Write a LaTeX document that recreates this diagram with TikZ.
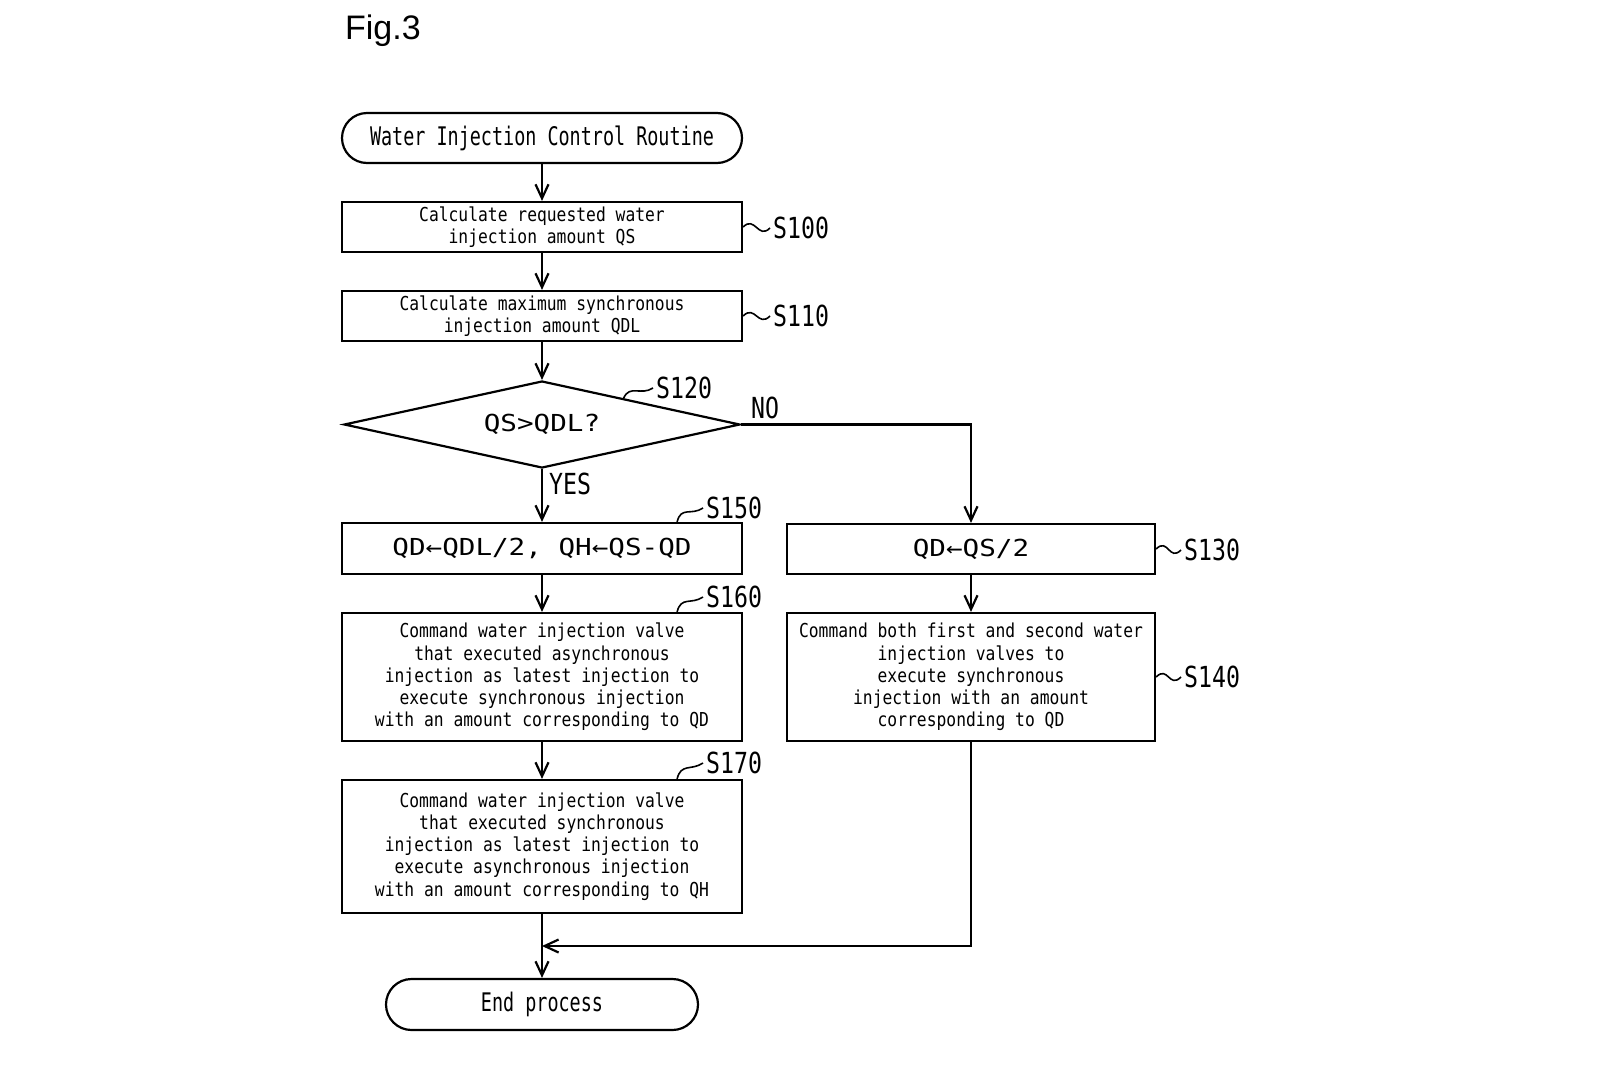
\documentclass[tikz,border=0pt]{standalone}
\usepackage{fontspec}
\setmainfont{Liberation Sans}
\newfontfamily\pfs[FakeStretch=0.85]{DejaVu Sans Mono}
\newfontfamily\pft[FakeStretch=0.72]{DejaVu Sans Mono}
\newfontfamily\pfb[FakeStretch=1.18]{DejaVu Sans Mono}
\newfontfamily\pfl[FakeStretch=0.8]{DejaVu Sans Mono}
\usetikzlibrary{shapes.geometric,arrows.meta,calc}
\tikzset{
  box/.style={draw, rectangle, inner sep=0pt, minimum width=200pt, align=center, font=\pfs\fontsize{9.6}{11.1}\selectfont},
  wide/.style={minimum width=184pt},
  big/.style={font=\pfb\fontsize{11.7}{14}\selectfont},
  term/.style={draw, rectangle, rounded corners=12.5pt, inner sep=0pt, minimum width=200pt, minimum height=25pt, font=\pft\fontsize{12.8}{15}\selectfont},
  dia/.style={draw, diamond, aspect=4.54, inner sep=0pt, minimum width=198pt, minimum height=43.5pt, font=\pfb\fontsize{11.7}{14}\selectfont},
  lbl/.style={inner sep=1pt, anchor=west, font=\pfl\fontsize{14.5}{18}\selectfont},
  arr/.style={-{Straight Barb[length=7pt,width=6.5pt]}},
  tl/.style={line width=0.8pt}
}
\begin{document}
\begin{tikzpicture}[x=0.5pt,y=-0.5pt,line width=1.1pt]
\useasboundingbox (0,0) rectangle (1600,1066);
\node[anchor=base west, inner sep=0pt, font=\fontsize{17}{20}\selectfont] (fig) at (344,39) {Fig.3};

\node[term] (start) at (542,138) {Water Injection Control Routine};
\node[box, minimum height=25pt] (s100) at (542,227) {Calculate requested water\\injection amount QS};
\node[box, minimum height=25pt] (s110) at (542,316) {Calculate maximum synchronous\\injection amount QDL};
\node[dia] (d) at (542,424.5) {QS>QDL?};
\node[box, big, minimum height=25.5pt] (s150) at (542,548.5) {QD←QDL/2, QH←QS-QD};
\node[box, big, wide, minimum height=25pt] (s130) at (971,549) {QD←QS/2};
\node[box, minimum height=64pt] (s160) at (542,677) {Command water injection valve\\that executed asynchronous\\injection as latest injection to\\execute synchronous injection\\with an amount corresponding to QD};
\node[box, wide, minimum height=64pt] (s140) at (971,677) {Command both first and second water\\injection valves to\\execute synchronous\\injection with an amount\\corresponding to QD};
\node[box, minimum height=66.5pt] (s170) at (542,846.5) {Command water injection valve\\that executed synchronous\\injection as latest injection to\\execute asynchronous injection\\with an amount corresponding to QH};
\node[term, minimum width=156pt, minimum height=25.5pt, rounded corners=12.75pt] (end) at (542,1004.5) {End process};

% step labels
\node[lbl] (l100) at (770,228) {S100};
\node[lbl] (l110) at (770,316) {S110};
\node[lbl] (l120) at (653,388) {S120};
\node[lbl] (l150) at (703,508) {S150};
\node[lbl] (l160) at (703,597) {S160};
\node[lbl] (l170) at (703,763) {S170};
\node[lbl] (l130) at (1181,550) {S130};
\node[lbl] (l140) at (1181,677) {S140};
\node[lbl] (no) at (748,408) {NO};
\node[lbl] (yes) at (546,484) {YES};

% tildes
\draw[tl] (s100.east) .. controls +(12,-12) and +(-12,12) .. (l100.west);
\draw[tl] (s110.east) .. controls +(12,-12) and +(-12,12) .. (l110.west);
\draw[tl] (s130.east) .. controls +(12,-12) and +(-12,12) .. (l130.west);
\draw[tl] (s140.east) .. controls +(12,-12) and +(-12,12) .. (l140.west);
\draw[tl] ($(d.north)!0.41!(d.east)$) .. controls +(6,-14) and +(-12,8) .. (l120.west);
\draw[tl] ($(s150.north east)+(-66,0)$) .. controls +(4,-16) and +(-12,8) .. (l150.west);
\draw[tl] ($(s160.north east)+(-66,0)$) .. controls +(4,-16) and +(-12,8) .. (l160.west);
\draw[tl] ($(s170.north east)+(-66,0)$) .. controls +(4,-16) and +(-12,8) .. (l170.west);

% connectors
\draw[arr] (start) -- (s100);
\draw[arr] (s100) -- (s110);
\draw[arr] (s110) -- (d);
\draw[arr] (d.south) -- (s150.north);
\draw[arr] (d.east) -| (s130.north);
\draw[arr] (s130) -- (s140);
\draw[arr] (s150) -- (s160);
\draw[arr] (s160) -- (s170);
\draw[arr] (s170) -- (end);
\coordinate (m) at (542,946);
\draw[arr] (s140.south) |- (m);
\end{tikzpicture}
\end{document}
